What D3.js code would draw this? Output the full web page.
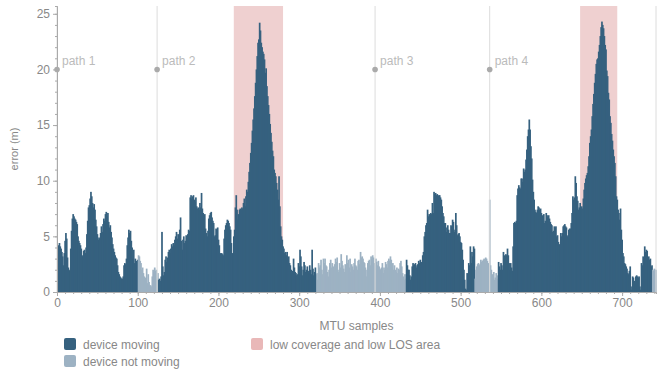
<!DOCTYPE html>
<html>
<head>
<meta charset="utf-8">
<script src="https://d3js.org/d3.v7.min.js"></script>
<style>
  body { margin: 0; background: #fff; }
  #chart { display: block; font-family: "Liberation Sans", Arial, sans-serif; }
  .axis path, .axis line { stroke: #aaa; }
  .axis text { fill: #888; font-size: 12px; }
  .lbl { fill: #888; font-size: 12px; }
</style>
</head>
<body>
<svg id="chart"></svg>
<script>
// error per MTU sample (m)
var errors = [
  3.1, 4.2, 4.4, 4.1, 3.9, 3.6, 3.2, 2.4, 3.5, 4.6,
  5.3, 4.8, 3.1, 2.2, 1.9, 2.0, 3.9, 5.5, 6.6, 7.0,
  6.8, 6.6, 6.5, 6.3, 6.1, 5.0, 4.6, 4.4, 4.2, 3.9,
  3.3, 3.2, 3.7, 3.8, 3.5, 4.0, 5.2, 6.4, 7.6, 7.8,
  8.4, 9.0, 8.6, 8.0, 7.6, 7.9, 7.4, 6.5, 5.9, 5.2,
  4.7, 4.9, 4.8, 5.3, 5.9, 5.4, 6.1, 6.6, 6.4, 7.0,
  7.2, 6.8, 7.1, 6.3, 5.8, 6.0, 5.4, 4.9, 4.3, 3.9,
  3.6, 3.3, 3.1, 3.0, 2.4, 1.8, 1.6, 1.4, 1.3, 1.2,
  1.2, 1.4, 2.4, 2.6, 2.5, 3.0, 4.2, 4.9, 5.6, 5.3,
  5.5, 4.6, 4.0, 3.0, 3.8, 2.6, 3.0, 2.8, 2.6, 2.9,
  3.3, 3.2, 2.8, 2.6, 2.0, 2.2, 1.7, 1.4, 1.1, 1.3,
  2.1, 0.8, 1.6, 0.9, 0.6, 0.6, 0.5, 1.4, 2.0, 1.8,
  2.2, 1.9, 2.0, 1.1, 1.7, 1.1, 1.2, 1.0, 1.4, 5.4,
  2.3, 1.5, 1.8, 2.9, 3.2, 2.7, 3.1, 3.6, 3.8, 3.5,
  3.9, 4.3, 4.1, 4.4, 4.2, 4.7, 5.0, 5.4, 4.8, 5.2,
  5.0, 5.6, 6.7, 4.6, 3.8, 4.7, 5.0, 4.4, 4.6, 5.1,
  4.8, 5.2, 5.6, 5.5, 8.5, 8.7, 8.4, 8.6, 8.7, 8.3,
  8.1, 8.5, 7.7, 7.5, 7.6, 7.4, 8.0, 7.6, 8.9, 7.5,
  7.1, 6.5, 7.0, 5.7, 5.3, 5.0, 5.5, 6.6, 6.9, 7.1,
  7.2, 6.7, 6.4, 6.2, 5.0, 5.1, 5.7, 5.6, 5.8, 4.7,
  4.2, 3.5, 3.4, 3.5, 3.4, 3.3, 4.8, 5.6, 6.0, 6.2,
  6.5, 6.4, 6.2, 5.9, 5.6, 4.4, 3.5, 3.4, 5.0, 5.6,
  7.6, 8.7, 7.4, 6.5, 7.0, 7.4, 7.5, 7.4, 7.6, 7.5,
  8.0, 8.4, 7.7, 8.6, 9.2, 9.0, 9.9, 10.8, 11.6, 12.5,
  13.4, 14.5, 15.5, 16.5, 17.6, 18.8, 20.0, 21.2, 22.4, 22.7,
  24.2, 23.5, 22.4, 22.0, 21.6, 21.4, 20.9, 19.7, 20.1, 18.5,
  17.6, 16.8, 16.0, 15.1, 14.3, 13.5, 12.7, 12.2, 11.0, 10.7,
  10.4, 9.8, 9.2, 8.3, 10.4, 7.7, 5.9, 5.0, 4.7, 4.1,
  3.9, 3.5, 3.6, 3.3, 3.6, 3.0, 3.2, 2.6, 2.4, 2.0,
  1.7, 1.9, 3.0, 2.2, 1.8, 1.7, 1.5, 1.6, 2.6, 2.3,
  3.8, 3.2, 2.3, 1.5, 2.0, 2.7, 2.4, 1.8, 2.0, 2.3,
  1.9, 1.7, 2.4, 2.0, 1.6, 3.8, 2.1, 1.5, 1.8, 2.2,
  1.6, 1.7, 1.1, 2.6, 2.2, 2.4, 2.9, 2.0, 1.6, 3.0,
  2.6, 3.0, 2.4, 2.3, 1.8, 1.4, 2.0, 2.6, 2.9, 2.2,
  2.6, 2.3, 2.0, 2.5, 3.0, 2.7, 3.1, 2.0, 1.8, 2.6,
  2.2, 3.4, 2.8, 2.4, 2.1, 1.8, 2.5, 2.0, 3.3, 2.6,
  2.9, 2.2, 3.0, 1.8, 2.5, 2.3, 2.0, 2.6, 3.0, 2.4,
  2.3, 2.0, 2.8, 2.9, 2.5, 3.6, 3.1, 3.2, 3.0, 2.7,
  2.6, 2.2, 1.4, 2.0, 2.6, 2.8, 2.9, 2.4, 3.2, 3.0,
  3.3, 3.1, 2.6, 2.4, 3.0, 2.7, 2.4, 2.8, 2.3, 2.1,
  2.0, 2.2, 2.6, 1.7, 2.2, 2.0, 2.7, 2.5, 2.2, 2.8,
  3.0, 2.8, 3.2, 2.9, 2.2, 2.6, 2.0, 2.4, 2.0, 1.8,
  2.2, 1.7, 2.1, 2.0, 2.6, 2.8, 2.3, 1.7, 1.4, 1.1,
  1.6, 1.2, 2.9, 2.4, 2.0, 2.0, 1.5, 1.1, 1.4, 2.3,
  2.6, 2.4, 2.5, 2.6, 2.2, 2.4, 2.5, 2.8, 2.6, 2.9,
  2.7, 2.6, 3.3, 3.6, 5.0, 5.4, 6.0, 6.2, 7.4, 6.8,
  7.0, 6.8, 7.1, 7.0, 8.0, 7.1, 9.0, 8.8, 8.9, 8.7,
  8.8, 8.6, 8.7, 8.7, 8.5, 8.3, 7.7, 7.1, 6.8, 6.2,
  6.2, 5.4, 5.8, 6.0, 5.6, 5.3, 5.3, 6.0, 5.9, 6.5,
  6.3, 5.4, 5.6, 7.1, 6.0, 5.1, 5.2, 5.3, 5.0, 4.5,
  4.4, 3.8, 2.9, 2.0, 1.1, 0.3, 0.2, 1.7, 1.4, 2.6,
  2.4, 4.1, 2.6, 3.6, 3.2, 4.1, 3.9, 1.2, 2.0, 2.3,
  2.5, 2.6, 2.4, 2.5, 2.9, 2.7, 2.8, 2.9, 3.0, 2.8,
  3.1, 3.0, 2.8, 2.6, 2.5, 8.3, 2.4, 2.0, 1.6, 1.4,
  1.8, 1.1, 1.3, 1.7, 1.5, 1.2, 2.7, 2.3, 2.0, 2.6,
  2.4, 2.0, 3.6, 3.3, 3.2, 3.4, 3.3, 3.9, 3.3, 2.6,
  2.0, 2.6, 2.2, 1.9, 4.1, 6.2, 6.3, 6.2, 6.4, 8.7,
  9.3, 9.6, 9.4, 9.3, 10.2, 10.2, 9.9, 11.1, 10.8, 11.0,
  11.9, 12.8, 14.0, 14.6, 15.5, 14.6, 13.1, 12.0, 10.1, 9.0,
  8.3, 7.4, 7.2, 7.1, 7.4, 7.7, 7.6, 7.4, 7.5, 7.1,
  6.9, 6.8, 7.0, 6.2, 6.4, 7.1, 6.9, 6.7, 6.9, 6.6,
  6.3, 6.1, 6.0, 5.4, 5.5, 5.9, 5.8, 5.9, 5.0, 5.1,
  4.5, 4.3, 4.1, 5.3, 5.0, 5.3, 5.9, 6.0, 6.1, 5.9,
  5.8, 5.0, 5.1, 5.6, 5.7, 5.7, 6.2, 7.1, 8.6, 8.3,
  8.5, 10.4, 9.8, 8.6, 8.2, 7.4, 7.6, 8.0, 7.4, 7.7,
  7.5, 8.4, 9.2, 9.8, 10.2, 10.5, 10.7, 11.3, 12.2, 13.4,
  14.0, 14.6, 15.8, 16.9, 17.8, 18.8, 19.6, 20.5, 20.9, 21.0,
  21.6, 22.2, 23.0, 23.8, 24.3, 24.0, 23.7, 23.0, 22.2, 21.8,
  19.9, 19.4, 17.9, 17.3, 15.8, 15.2, 14.2, 13.6, 12.8, 12.2,
  11.6, 10.4, 8.6, 8.3, 7.4, 7.1, 6.5, 7.5, 5.6, 4.7,
  3.5, 3.2, 2.6, 2.5, 2.3, 2.1, 1.7, 1.6, 1.9, 2.3,
  0.5, 0.2, 1.4, 1.3, 1.0, 0.8, 1.4, 1.5, 1.4, 1.3,
  1.4, 0.5, 0.2, 2.6, 2.4, 3.2, 3.0, 4.1, 3.6, 3.8,
  3.7, 3.0, 3.2, 2.9, 3.0, 2.3, 2.4, 2.0, 1.9, 2.1,
  2.0, 2.0
];

// sample ranges where the device was standing still [start, end)
var notMoving = [[100, 125], [321, 432], [517, 546], [737, 742]];

// low coverage / low LOS areas
var lowCoverage = [[219, 280], [648, 694]];

// path start markers
var pathStarts = [0, 124, 394, 536];
var pathNames = ["path 1", "path 2", "path 3", "path 4"];

var legendItems = [
  {label: "device moving", color: "#36617f"},
  {label: "device not moving", color: "#9db2c3"},
  {label: "low coverage and low LOS area", color: "#e9b8b8"}
];

var W = 662, H = 372;
var margin = {top: 6, right: 6, bottom: 80, left: 57},
    width = W - margin.left - margin.right,
    height = H - margin.top - margin.bottom;

var svg = d3.select("#chart").attr("width", W).attr("height", H);
var g = svg.append("g").attr("transform", "translate(" + margin.left + "," + margin.top + ")");

var x = d3.scaleLinear().domain([0, errors.length]).range([0, width]);
var y = d3.scaleLinear().domain([0, 25.7]).range([height, 0]);

function isStill(i) {
  return notMoving.some(r => i >= r[0] && i < r[1]);
}

// low coverage bands
g.selectAll(".band")
  .data(lowCoverage)
  .enter().append("rect")
    .attr("class", "band")
    .attr("x", d => x(d[0]))
    .attr("width", d => x(d[1]) - x(d[0]))
    .attr("y", 0)
    .attr("height", height)
    .attr("fill", "#efd0d0");

// bars (a bit wider than one step so they merge into a solid fill)
var step = x(1) - x(0);
g.selectAll(".bar")
  .data(errors)
  .enter().append("rect")
    .attr("class", "bar")
    .attr("x", (d, i) => x(i))
    .attr("width", step + 0.9)
    .attr("y", d => y(d))
    .attr("height", d => y(0) - y(d))
    .attr("fill", (d, i) => isStill(i) ? "#9db2c3" : "#36617f");

// path markers
var paths = g.selectAll(".path-mark")
  .data(pathStarts)
  .enter().append("g")
    .attr("class", "path-mark")
    .attr("transform", d => "translate(" + x(d) + ",0)");

paths.append("line")
  .attr("y1", 0).attr("y2", height)
  .attr("stroke", "#dcdcdc").attr("stroke-width", 1);
paths.append("circle")
  .attr("cy", y(20)).attr("r", 2.8).attr("fill", "#aaa");
paths.append("text")
  .attr("x", 5).attr("y", y(20) - 4)
  .attr("fill", "#bbb").style("font-size", "12px")
  .text((d, i) => pathNames[i]);

// right edge line
g.append("line")
  .attr("x1", width).attr("x2", width)
  .attr("y1", 0).attr("y2", height)
  .attr("stroke", "#dcdcdc");

// axes with minor ticks
g.append("g")
  .attr("class", "axis")
  .attr("transform", "translate(0," + height + ")")
  .call(d3.axisBottom(x).tickValues(d3.range(0, 741, 10)).tickSize(2).tickFormat(""));
g.append("g")
  .attr("class", "axis")
  .attr("transform", "translate(0," + height + ")")
  .call(d3.axisBottom(x).tickValues(d3.range(0, 701, 100)).tickSize(4).tickSizeOuter(0).tickPadding(2));

g.append("g")
  .attr("class", "axis")
  .call(d3.axisLeft(y).tickValues(d3.range(0, 26, 1)).tickSize(2).tickFormat(""));
g.append("g")
  .attr("class", "axis")
  .call(d3.axisLeft(y).tickValues(d3.range(0, 26, 5)).tickSize(4).tickSizeOuter(0).tickPadding(3));

g.selectAll(".axis .domain").attr("stroke", "#aaa");

// axis titles
svg.append("text")
  .attr("class", "lbl")
  .attr("transform", "translate(18," + (margin.top + height / 2) + ") rotate(-90)")
  .attr("text-anchor", "middle")
  .style("font-size", "11px")
  .text("error (m)");

svg.append("text")
  .attr("class", "lbl")
  .attr("x", margin.left + width / 2)
  .attr("y", 330)
  .attr("text-anchor", "middle")
  .text("MTU samples");

// legend
var legendPos = [[64, 338], [64, 355], [251, 338]];
var leg = svg.selectAll(".legend")
  .data(legendItems)
  .enter().append("g")
    .attr("class", "legend")
    .attr("transform", (d, i) => "translate(" + legendPos[i][0] + "," + legendPos[i][1] + ")");
leg.append("rect")
  .attr("width", 12).attr("height", 12).attr("rx", 2)
  .attr("fill", d => d.color);
leg.append("text")
  .attr("class", "lbl")
  .attr("x", 19).attr("y", 10.5)
  .text(d => d.label);
</script>
</body>
</html>
